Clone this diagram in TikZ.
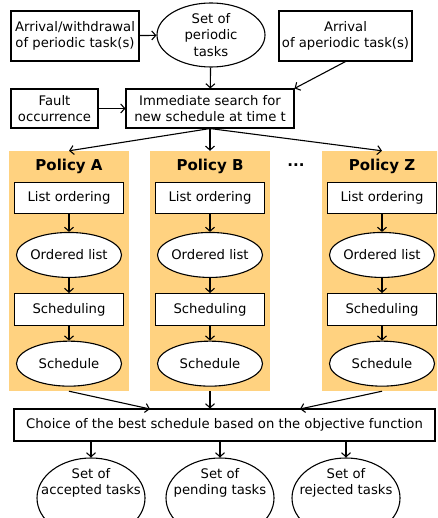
\documentclass[tikz,border=0pt]{standalone}
\usepackage{fontspec}
\setmainfont{DejaVu Sans}
\usetikzlibrary{shapes.geometric, positioning, arrows.meta}
\definecolor{policybg}{RGB}{255,210,128}
\tikzset{
x=1pt, y=-1pt, % pixel-like units, y grows downwards
>={Straight Barb[length=4pt,width=9pt]}, % open arrow heads
every node/.style={font=\fontsize{13.2}{16.5}\selectfont, align=center},
box/.style={draw, line width=1.1pt, fill=white, inner sep=0pt}, % rectangular steps
oval/.style={ellipse, draw, line width=1.1pt, fill=white, inner xsep=-40pt, inner ysep=-30pt}, % sets and results, size given by hand
panel/.style={fill=policybg, minimum width=120pt, minimum height=240pt}, % background of a policy
title/.style={font=\fontsize{15}{17}\selectfont\bfseries},
link/.style={->, line width=1.1pt},
}

\begin{document}
\begin{tikzpicture}
    \clip (0,0) rectangle (437,518);
    % inputs
    \node[box, minimum width=128pt, minimum height=50pt] (perarr) at (75,36) {Arrival/withdrawal\\of periodic task(s)};
    \node[oval, minimum width=108pt, minimum height=64pt] (perset) at (211,35) {Set of\\periodic\\tasks};
    \node[box, minimum width=133pt, minimum height=50pt] (aperarr) at (345.5,36) {Arrival\\of aperiodic task(s)};
    \node[box, minimum width=87pt, minimum height=39pt] (fault) at (54.5,108.5) {Fault\\occurrence};
    \node[box, minimum width=168pt, minimum height=39pt] (search) at (210,108.5) {Immediate search for\\new schedule at time t};

    % policies
    \node[panel] (pA) at (69,271) {};
    \node[panel] (pB) at (210,271) {};
    \node[panel] (pZ) at (382,271) {};
    \node[title] (tA) at ([yshift=-15.5pt]pA.north) {Policy A};
    \node[title] (tB) at ([yshift=-15.5pt]pB.north) {Policy B};
    \node[title] (tZ) at ([yshift=-15.5pt]pZ.north) {Policy Z};
    \node[title] (dots) at (296,165) {...};

    \node[box, minimum width=109pt, minimum height=31pt, below=31pt of pA.north] (loA) {List ordering};
    \node[oval, minimum width=105pt, minimum height=45pt, below=18pt of loA] (olA) {Ordered list};
    \node[box, minimum width=109pt, minimum height=32pt, below=15pt of olA] (scA) {Scheduling};
    \node[oval, minimum width=105pt, minimum height=45pt, below=14.5pt of scA] (sdA) {Schedule};

    \node[box, minimum width=109pt, minimum height=31pt, below=31pt of pB.north] (loB) {List ordering};
    \node[oval, minimum width=105pt, minimum height=45pt, below=18pt of loB] (olB) {Ordered list};
    \node[box, minimum width=109pt, minimum height=32pt, below=15pt of olB] (scB) {Scheduling};
    \node[oval, minimum width=105pt, minimum height=45pt, below=14.5pt of scB] (sdB) {Schedule};

    \node[box, minimum width=109pt, minimum height=31pt, below=31pt of pZ.north] (loZ) {List ordering};
    \node[oval, minimum width=105pt, minimum height=45pt, below=18pt of loZ] (olZ) {Ordered list};
    \node[box, minimum width=109pt, minimum height=32pt, below=15pt of olZ] (scZ) {Scheduling};
    \node[oval, minimum width=105pt, minimum height=45pt, below=14.5pt of scZ] (sdZ) {Schedule};

    % decision and results
    \node[box, minimum width=421pt, minimum height=32pt] (choice) at (224.5,425) {Choice of the best schedule based on the objective function};
    \coordinate (inA) at (150,409);
    \coordinate (inZ) at (300,409);
    \node[oval, minimum width=108pt, minimum height=80pt] (acc) at (91,498) {};
    \node[oval, minimum width=108pt, minimum height=80pt] (pend) at (220,498) {};
    \node[oval, minimum width=108pt, minimum height=80pt] (rej) at (346,498) {};
    \node (accT) at ([yshift=15pt]acc.center) {Set of\\accepted tasks};
    \node (pendT) at ([yshift=15pt]pend.center) {Set of\\pending tasks};
    \node (rejT) at ([yshift=15pt]rej.center) {Set of\\rejected tasks};

    \draw[link] (perarr) -- (perset);
    \draw[link] (perset) -- (search);
    \draw[link] (aperarr.south) -- (search.north east);
    \draw[link] (fault) -- (search);
    \draw[link] (search.south) -- (pA.north);
    \draw[link] (search.south) -- (pB.north);
    \draw[link] (search.south) -- (pZ.north);
    \draw[link] (loA) -- (olA);
    \draw[link] (olA) -- (scA);
    \draw[link] (scA) -- (sdA);
    \draw[link] (loB) -- (olB);
    \draw[link] (olB) -- (scB);
    \draw[link] (scB) -- (sdB);
    \draw[link] (loZ) -- (olZ);
    \draw[link] (olZ) -- (scZ);
    \draw[link] (scZ) -- (sdZ);
    \draw[link] (pA.south) -- (inA);
    \draw[link] (pB.south) -- (pB.south |- choice.north);
    \draw[link] (pZ.south) -- (inZ);
    \draw[link] (choice.south -| acc.north) -- (acc.north);
    \draw[link] (choice.south -| pend.north) -- (pend.north);
    \draw[link] (choice.south -| rej.north) -- (rej.north);
\end{tikzpicture}
\end{document}
